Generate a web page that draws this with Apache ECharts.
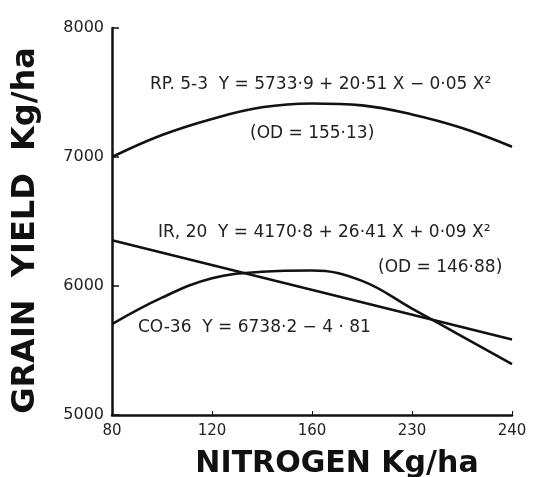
<!DOCTYPE html>
<html>
<head>
<meta charset="utf-8">
<script src="https://cdn.jsdelivr.net/npm/echarts@6/dist/echarts.min.js"></script>
<style>
  html, body { margin: 0; padding: 0; background: #fff; }
  #main { width: 537px; height: 477px; }
</style>
</head>
<body>
<div id="main"></div>
<script>
    // nitrogen levels (kg/ha)
    var nitrogen = [80, 100, 120, 140, 160, 180, 200, 220, 240];
    var rp53 = [7000, 7170, 7295, 7385, 7415, 7400, 7330, 7225, 7080];
    var ir20 = [5705, 5910, 6060, 6110, 6120, 6040, 5825, 5610, 5395];
    var co36X = [80, 240];
    var co36 = [6355, 5585];
    // tick labels as printed
    var xTicks = {80: '80', 120: '120', 160: '160', 200: '230', 240: '240'};
    var yTicks = [5000, 6000, 7000, 8000];

    function pairs(xs, ys) {
        var out = [];
        for (var i = 0; i < xs.length; i++) out.push([xs[i], ys[i]]);
        return out;
    }

    var font = "'DejaVu Sans', sans-serif";
    var chart = echarts.init(document.getElementById('main'));

    var lineStyle = { color: '#111', width: 2.6 };
    var note = { fontSize: 17, fontFamily: font, fill: '#222' };

    chart.setOption({
        backgroundColor: '#fff',
        animation: false,
        grid: { left: 112, right: 25, top: 28, bottom: 62, outerBoundsMode: 'none' },
        xAxis: {
            type: 'value',
            min: 80, max: 240, interval: 40,
            axisLine: { lineStyle: { color: '#111', width: 2.5 } },
            axisTick: { inside: true, length: 4, lineStyle: { color: '#111' } },
            splitLine: { show: false },
            axisLabel: {
                color: '#222', fontSize: 15, fontFamily: font, margin: 9,
                formatter: function (v) { return xTicks[v] || ''; }
            },
            name: 'NITROGEN Kg/ha',
            nameLocation: 'middle',
            nameGap: 34,
            nameTextStyle: { color: '#111', fontSize: 30, fontWeight: 'bold', fontFamily: font, padding: [0, 0, 0, 50] }
        },
        yAxis: {
            type: 'value',
            min: yTicks[0], max: yTicks[yTicks.length - 1], interval: 1000,
            axisLine: { show: true, lineStyle: { color: '#111', width: 2.5 } },
            axisTick: { show: true, inside: true, length: 7, lineStyle: { color: '#111', width: 1.5 } },
            splitLine: { show: false },
            axisLabel: {
                color: '#222', fontSize: 16, fontFamily: font, margin: 8,
                formatter: function (v) { return String(v); }
            },
            name: 'GRAIN  YIELD  Kg/ha',
            nameLocation: 'middle',
            nameGap: 70,
            nameTextStyle: { color: '#111', fontSize: 32, fontWeight: 'bold', fontFamily: font, padding: [0, 18, 0, 0] }
        },
        series: [
            { name: 'RP. 5-3', type: 'line', smooth: 0.4, showSymbol: false, lineStyle: lineStyle, data: pairs(nitrogen, rp53) },
            { name: 'IR. 20', type: 'line', smooth: 0.4, showSymbol: false, lineStyle: lineStyle, data: pairs(nitrogen, ir20) },
            { name: 'CO-36', type: 'line', showSymbol: false, lineStyle: lineStyle, data: pairs(co36X, co36) }
        ],
        graphic: [
            { type: 'text', left: 150, top: 76, style: Object.assign({ text: 'RP. 5-3  Y = 5733·9 + 20·51 X − 0·05 X²' }, note) },
            { type: 'text', left: 250, top: 125, style: Object.assign({ text: '(OD = 155·13)' }, note) },
            { type: 'text', left: 158, top: 224, style: Object.assign({ text: 'IR, 20  Y = 4170·8 + 26·41 X + 0·09 X²' }, note) },
            { type: 'text', left: 378, top: 259, style: Object.assign({ text: '(OD = 146·88)' }, note) },
            { type: 'text', left: 138, top: 319, style: Object.assign({ text: 'CO-36  Y = 6738·2 − 4 · 81' }, note) }
        ]
    });
</script>
</body>
</html>
